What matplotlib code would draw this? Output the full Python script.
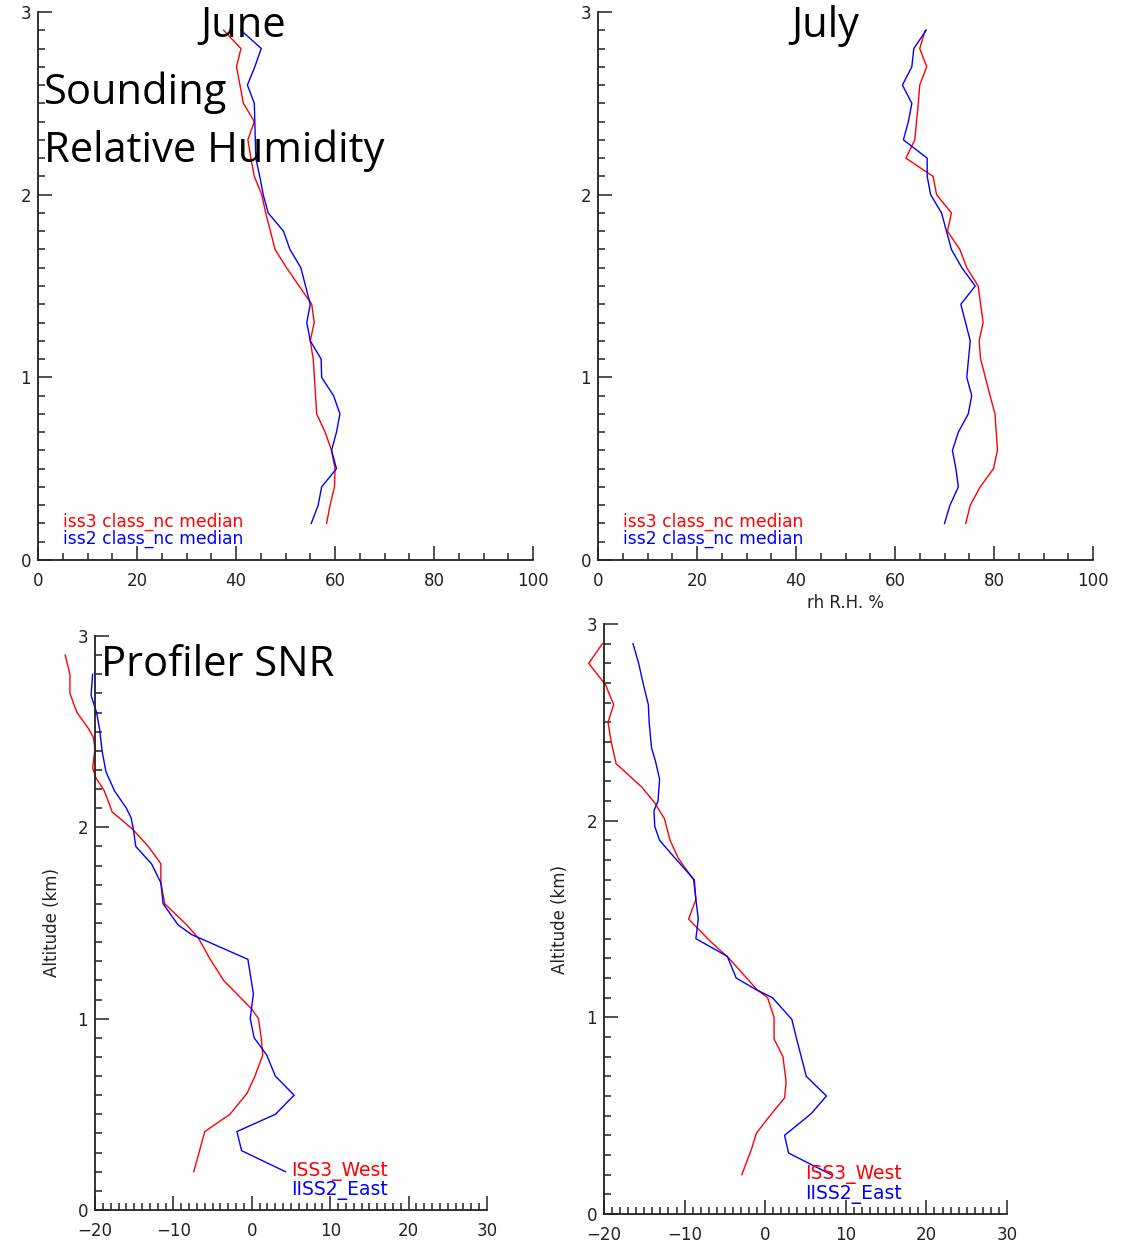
import matplotlib
matplotlib.use('Agg')
import matplotlib.pyplot as plt
from matplotlib.ticker import MultipleLocator

W, H = 1124, 1247

# sounding relative humidity medians, June (altitude km / RH %)
jun_iss3_z = [2.9, 2.8, 2.7, 2.5, 2.4, 2.3, 2.2, 2.1, 2.0, 1.9, 1.7, 1.6, 1.4, 1.3, 1.2, 1.1, 0.8, 0.7, 0.6, 0.5, 0.4, 0.3, 0.2]
jun_iss3_rh = [37.5, 41.0, 40.1, 41.5, 43.7, 42.4, 43.0, 43.7, 45.2, 46.0, 47.9, 50.2, 55.3, 55.8, 55.0, 55.6, 56.3, 58.0, 59.3, 60.0, 59.9, 59.0, 58.3]
jun_iss2_z = [2.9, 2.8, 2.7, 2.6, 2.5, 2.4, 2.2, 2.1, 2.0, 1.9, 1.8, 1.7, 1.6, 1.4, 1.3, 1.2, 1.1, 1.0, 0.9, 0.8, 0.7, 0.6, 0.5, 0.4, 0.3, 0.2]
jun_iss2_rh = [41.0, 45.1, 43.8, 42.3, 43.7, 43.8, 44.0, 44.8, 45.5, 46.5, 49.6, 50.9, 53.1, 55.0, 54.3, 55.0, 57.2, 57.3, 59.7, 61.0, 60.3, 59.3, 60.3, 57.3, 56.6, 55.2]

# July
jul_iss3_z = [2.9, 2.8, 2.7, 2.6, 2.5, 2.3, 2.2, 2.1, 2.0, 1.9, 1.8, 1.7, 1.6, 1.5, 1.3, 1.2, 1.1, 0.9, 0.8, 0.6, 0.5, 0.4, 0.3, 0.2]
jul_iss3_rh = [66.1, 65.0, 66.4, 65.0, 64.7, 64.0, 62.2, 67.7, 68.4, 71.4, 70.6, 73.1, 74.5, 76.8, 77.8, 77.0, 77.3, 79.2, 80.2, 80.7, 79.9, 77.2, 75.2, 74.3]
jul_iss2_z = [2.9, 2.8, 2.7, 2.6, 2.5, 2.4, 2.3, 2.2, 2.1, 2.0, 1.9, 1.7, 1.6, 1.5, 1.4, 1.2, 1.0, 0.9, 0.8, 0.7, 0.6, 0.5, 0.4, 0.3, 0.2]
jul_iss2_rh = [66.3, 63.8, 63.4, 61.5, 63.4, 62.7, 61.7, 66.5, 66.5, 67.2, 69.4, 71.4, 73.5, 76.2, 73.3, 75.2, 74.5, 75.5, 74.8, 72.8, 71.6, 72.3, 72.8, 71.1, 70.0]

# profiler SNR medians, June (altitude km / SNR dB)
jun_west_z = [2.9, 2.8, 2.7, 2.6, 2.52, 2.47, 2.41, 2.31, 2.26, 2.19, 2.08, 1.99, 1.9, 1.81, 1.71, 1.6, 1.49, 1.42, 1.31, 1.2, 1.05, 1.0, 0.9, 0.81, 0.7, 0.61, 0.5, 0.41, 0.2]
jun_west_snr = [-23.8, -23.2, -23.2, -22.3, -20.9, -20.2, -20.0, -20.3, -19.9, -18.8, -17.8, -15.2, -13.2, -11.6, -11.6, -11.1, -8.3, -6.8, -5.3, -3.6, 0.0, 0.85, 1.2, 1.4, 0.4, -0.6, -2.8, -6.0, -7.4]
jun_east_z = [2.8, 2.69, 2.6, 2.51, 2.4, 2.29, 2.19, 2.1, 2.05, 1.99, 1.9, 1.81, 1.71, 1.6, 1.49, 1.44, 1.31, 1.13, 1.0, 0.9, 0.81, 0.7, 0.6, 0.5, 0.41, 0.31, 0.2]
jun_east_snr = [-20.3, -20.5, -19.8, -19.4, -19.1, -18.6, -17.5, -16.0, -15.4, -15.1, -14.8, -12.8, -11.6, -11.3, -9.4, -7.7, -0.5, 0.2, -0.2, 0.3, 1.9, 3.0, 5.4, 3.0, -1.9, -1.3, 4.3]

# July
jul_west_z = [2.9, 2.8, 2.69, 2.59, 2.5, 2.4, 2.29, 2.17, 2.09, 2.01, 1.9, 1.81, 1.7, 1.6, 1.5, 1.39, 1.3, 1.14, 1.1, 1.0, 0.89, 0.8, 0.67, 0.59, 0.49, 0.41, 0.33, 0.2]
jul_west_snr = [-20.2, -21.9, -19.8, -18.8, -19.5, -19.1, -18.5, -15.3, -13.7, -12.5, -11.8, -10.8, -8.9, -8.6, -9.5, -6.9, -4.5, -1.0, 0.3, 1.1, 1.1, 2.2, 2.6, 2.4, 0.4, -1.1, -1.7, -2.9]
jul_east_z = [2.9, 2.8, 2.69, 2.59, 2.5, 2.37, 2.3, 2.21, 2.1, 2.05, 1.97, 1.9, 1.81, 1.7, 1.6, 1.5, 1.4, 1.31, 1.2, 1.14, 1.1, 0.99, 0.89, 0.7, 0.6, 0.51, 0.4, 0.31, 0.26, 0.2]
jul_east_snr = [-16.4, -15.7, -15.1, -14.5, -14.4, -14.1, -13.6, -13.1, -13.3, -13.8, -13.7, -13.1, -11.2, -8.8, -8.6, -8.3, -8.6, -4.7, -3.6, -1.1, 0.9, 3.3, 3.9, 5.1, 7.6, 5.7, 2.4, 2.9, 5.3, 8.2]

INK = '#222222'
RED = '#ff0000'
BLUE = '#0000ff'


def px_axes(left, right, top, bottom):
    # axes rectangle from pixel edges
    return [left / W, 1 - bottom / H, (right - left) / W, (bottom - top) / H]


def style(ax, xmaj, xmin):
    for s in ('top', 'right'):
        ax.spines[s].set_visible(False)
    for s in ('left', 'bottom'):
        ax.spines[s].set_color(INK)
        ax.spines[s].set_linewidth(1.3)
    ax.set_ylim(0, 3)
    ax.yaxis.set_major_locator(MultipleLocator(1))
    ax.yaxis.set_minor_locator(MultipleLocator(0.1))
    ax.xaxis.set_major_locator(MultipleLocator(xmaj))
    ax.xaxis.set_minor_locator(MultipleLocator(xmin))
    ax.tick_params(which='both', direction='in', color=INK, width=1.1,
                   labelcolor=INK, labelsize=12)
    ax.tick_params(which='major', length=10)
    ax.tick_params(which='minor', length=5)
    ax.tick_params(axis='x', pad=9)
    ax.tick_params(axis='y', pad=5)
    ax.set_facecolor('none')


fig = plt.figure(figsize=(W / 100, H / 100), dpi=100)

# --- sounding RH panels ---
ax1 = fig.add_axes(px_axes(38, 533, 12, 560))
ax2 = fig.add_axes(px_axes(598, 1093, 12, 560))
for ax, r_z, r_v, b_z, b_v in [(ax1, jun_iss3_z, jun_iss3_rh, jun_iss2_z, jun_iss2_rh),
                               (ax2, jul_iss3_z, jul_iss3_rh, jul_iss2_z, jul_iss2_rh)]:
    style(ax, 20, 5)
    ax.set_xlim(0, 100)
    ax.plot(r_v, r_z, color=RED, lw=1.0)
    ax.plot(b_v, b_z, color=BLUE, lw=1.0)
    ax.text(5, 0.21, 'iss3 class_nc median', color=RED, fontsize=12.3, va='center')
    ax.text(5, 0.115, 'iss2 class_nc median', color=BLUE, fontsize=12.3, va='center')
ax2.text(0.5, -0.078, 'rh R.H. %', transform=ax2.transAxes, ha='center',
         va='center', fontsize=12, color=INK)

# --- profiler SNR panels ---
ax3 = fig.add_axes(px_axes(95, 487, 636, 1210))
ax4 = fig.add_axes(px_axes(604, 1007, 624, 1214))
for ax, r_z, r_v, b_z, b_v in [(ax3, jun_west_z, jun_west_snr, jun_east_z, jun_east_snr),
                               (ax4, jul_west_z, jul_west_snr, jul_east_z, jul_east_snr)]:
    style(ax, 10, 1)
    ax.set_xlim(-20, 30)
    ax.plot(r_v, r_z, color=RED, lw=1.0, clip_on=False)
    ax.plot(b_v, b_z, color=BLUE, lw=1.0, clip_on=False)
    ax.text(5.0, 0.2, 'ISS3_West', color=RED, fontsize=13.5, va='center')
    ax.text(5.0, 0.1, 'IISS2_East', color=BLUE, fontsize=13.5, va='center')
    ax.text(-0.11, 0.5, 'Altitude (km)', transform=ax.transAxes, rotation=90,
            ha='center', va='center', fontsize=12, color=INK)

# --- titles ---
big = dict(family=['Open Sans', 'DejaVu Sans'], fontsize=30, color='black', va='baseline')
fig.text(243 / W, 1 - 37 / H, 'June', ha='center', **big)
fig.text(825 / W, 1 - 37 / H, 'July', ha='center', **big)
fig.text(44 / W, 1 - 104 / H, 'Sounding', ha='left', **big)
fig.text(44 / W, 1 - 162 / H, 'Relative Humidity', ha='left', **big)
fig.text(101 / W, 1 - 676 / H, 'Profiler SNR', ha='left', **big)

fig.savefig('out.png', dpi=100, facecolor='white')
